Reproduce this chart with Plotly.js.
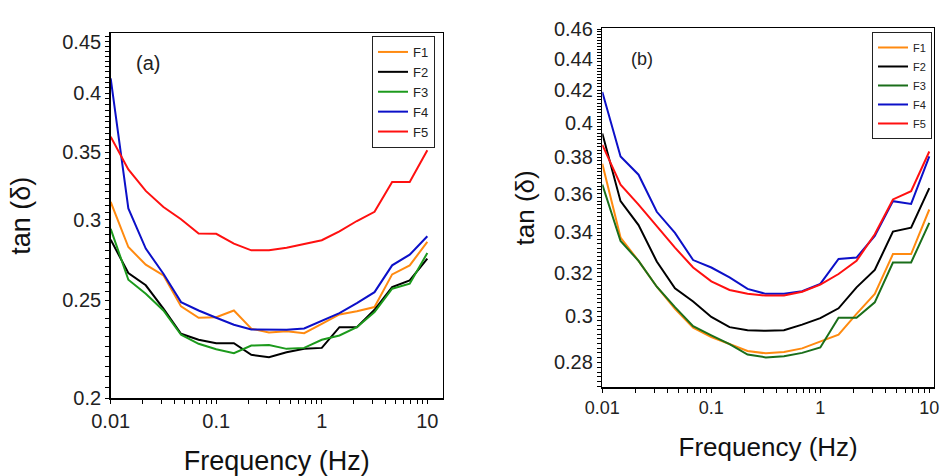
<!DOCTYPE html>
<html>
<head>
<meta charset="utf-8">
<script src="https://cdn.plot.ly/plotly-3.0.1.min.js"></script>
<style>html,body{margin:0;padding:0;background:#fff;}#chart{width:942px;height:476px;}</style>
</head>
<body>
<div id="chart"></div>
<script>
// Frequencies (Hz)
const freq = [0.01, 0.0147, 0.0215, 0.0316, 0.0464, 0.0681, 0.1, 0.147, 0.215, 0.316, 0.464, 0.681, 1, 1.47, 2.15, 3.16, 4.64, 6.81, 10];
const seriesNames = ['F1', 'F2', 'F3', 'F4', 'F5'];

// Panel (a) tan(delta)
const a_F1 = [0.3126, 0.2821, 0.2710, 0.2645, 0.2465, 0.2402, 0.2405, 0.2442, 0.2343, 0.2323, 0.2330, 0.2319, 0.2369, 0.2420, 0.2438, 0.2461, 0.2651, 0.2706, 0.2854];
const a_F2 = [0.2869, 0.2659, 0.2586, 0.2452, 0.2316, 0.2285, 0.2267, 0.2267, 0.2208, 0.2196, 0.2221, 0.2238, 0.2243, 0.2351, 0.2351, 0.2446, 0.2576, 0.2615, 0.2748];
const a_F3 = [0.2940, 0.2619, 0.2537, 0.2442, 0.2311, 0.2264, 0.2236, 0.2216, 0.2255, 0.2258, 0.2238, 0.2243, 0.2285, 0.2307, 0.2351, 0.2433, 0.2566, 0.2595, 0.2783];
const a_F4 = [0.4140, 0.3080, 0.2811, 0.2655, 0.2489, 0.2442, 0.2402, 0.2364, 0.2339, 0.2337, 0.2337, 0.2344, 0.2387, 0.2427, 0.2483, 0.2546, 0.2706, 0.2773, 0.2891];
const a_F5 = [0.3625, 0.3365, 0.3205, 0.3090, 0.3005, 0.2909, 0.2907, 0.2843, 0.2800, 0.2800, 0.2817, 0.2839, 0.2865, 0.2924, 0.2993, 0.3056, 0.3271, 0.3271, 0.3516];

// Panel (b) tan(delta)
const b_F1 = [0.3764, 0.3372, 0.3257, 0.3134, 0.3033, 0.2949, 0.2908, 0.2876, 0.2848, 0.2838, 0.2844, 0.2859, 0.2887, 0.2918, 0.3010, 0.3101, 0.3290, 0.3290, 0.3516];
const b_F2 = [0.3938, 0.3560, 0.3435, 0.3254, 0.3127, 0.3066, 0.2996, 0.2951, 0.2937, 0.2935, 0.2937, 0.2962, 0.2991, 0.3035, 0.3131, 0.3213, 0.3402, 0.3422, 0.3630];
const b_F3 = [0.3649, 0.3355, 0.3257, 0.3134, 0.3040, 0.2955, 0.2915, 0.2877, 0.2833, 0.2821, 0.2826, 0.2840, 0.2863, 0.2993, 0.2993, 0.3062, 0.3249, 0.3249, 0.3447];
const b_F4 = [0.4189, 0.3805, 0.3703, 0.3504, 0.3396, 0.3261, 0.3225, 0.3178, 0.3124, 0.3101, 0.3101, 0.3113, 0.3147, 0.3266, 0.3273, 0.3380, 0.3560, 0.3545, 0.3805];
const b_F5 = [0.3871, 0.3649, 0.3542, 0.3430, 0.3322, 0.3225, 0.3159, 0.3119, 0.3101, 0.3093, 0.3093, 0.3111, 0.3144, 0.3194, 0.3257, 0.3389, 0.3569, 0.3613, 0.3833];

// Tick labels
const xTickVals = [0.01, 0.1, 1, 10];
const xTickText = ['0.01', '0.1', '1', '10'];
const aYTickVals = [0.2, 0.25, 0.3, 0.35, 0.4, 0.45];
const aYTickText = ['0.2', '0.25', '0.3', '0.35', '0.4', '0.45'];
const bYTickVals = [0.28, 0.3, 0.32, 0.34, 0.36, 0.38, 0.4, 0.42, 0.44, 0.46];
const bYTickText = ['0.28', '0.3', '0.32', '0.34', '0.36', '0.38', '0.4', '0.42', '0.44', '0.46'];

const colorsA = ['#ff8a10', '#000000', '#1c9a1c', '#0c10c8', '#ff1010'];
const colorsB = ['#ff8a10', '#000000', '#1a6e1a', '#0c10c8', '#ff1010'];

// unlabelled minor tick positions (axis styling only)
const xMinor = [];
[0.01, 0.1, 1, 10].forEach(d => { for (let m = 2; m <= 9; m++) xMinor.push(+(d * m).toPrecision(3)); });
const aYMinor = [];
for (let i = 0; i <= 52; i++) { const v = +(0.2 + i * 0.005).toFixed(3); if (aYTickVals.indexOf(v) < 0) aYMinor.push(v); }
const bYMinor = [];
for (let i = 0; i <= 100; i++) { const v = +(0.27 + i * 0.002).toFixed(3); if (v < 0.461 && bYTickVals.indexOf(v) < 0) bYMinor.push(v); }

function withMinor(vals, text, minor) {
  return {tickvals: vals.concat(minor), ticktext: text.concat(minor.map(() => ''))};
}

const FONT = 'Liberation Sans, Arial, sans-serif';
const seriesA = [a_F1, a_F2, a_F3, a_F4, a_F5];
const seriesB = [b_F1, b_F2, b_F3, b_F4, b_F5];

const traces = [];
seriesA.forEach((ys, i) => traces.push({
  x: freq, y: ys, name: seriesNames[i], type: 'scatter', mode: 'lines',
  line: {color: colorsA[i], width: 2}, xaxis: 'x', yaxis: 'y', legend: 'legend'
}));
seriesB.forEach((ys, i) => traces.push({
  x: freq, y: ys, name: seriesNames[i], type: 'scatter', mode: 'lines',
  line: {color: colorsB[i], width: 2}, xaxis: 'x2', yaxis: 'y2', legend: 'legend2'
}));

function axisBase() {
  return {
    type: 'log', showgrid: false, zeroline: false,
    showline: true, linecolor: '#000', linewidth: 1.5, mirror: true,
    ticks: 'outside', ticklen: 4, tickwidth: 1, tickcolor: '#000',
    tickmode: 'array'
  };
}

const layout = {
  width: 942, height: 476,
  margin: {l: 0, r: 0, t: 0, b: 0},
  paper_bgcolor: '#fff', plot_bgcolor: '#fff',
  font: {family: FONT, color: '#222'},
  showlegend: true,
  xaxis: Object.assign(axisBase(), withMinor(xTickVals, xTickText, xMinor), {
    domain: [0.1175, 0.470], range: [-2, 1.146], anchor: 'y',
    tickfont: {family: FONT, size: 20, color: '#222'},
    title: {text: 'Frequency (Hz)', font: {family: FONT, size: 27, color: '#111'}, standoff: 22}
  }),
  yaxis: Object.assign(axisBase(), withMinor(aYTickVals, aYTickText, aYMinor), {
    domain: [0.1632, 0.930], range: [Math.log10(0.2), Math.log10(0.4586)], anchor: 'x',
    tickfont: {family: FONT, size: 20, color: '#222'},
    title: {text: 'tan (δ)', font: {family: FONT, size: 27, color: '#111'}, standoff: 24}
  }),
  xaxis2: Object.assign(axisBase(), withMinor(xTickVals, xTickText, xMinor), {
    domain: [0.6394, 0.9915], range: [-2, 1.043], anchor: 'y2',
    tickfont: {family: FONT, size: 18, color: '#222'},
    title: {text: 'Frequency (Hz)', font: {family: FONT, size: 26, color: '#111'}, standoff: 20}
  }),
  yaxis2: Object.assign(axisBase(), withMinor(bYTickVals, bYTickText, bYMinor), {
    domain: [0.1863, 0.9405], range: [Math.log10(0.2698), Math.log10(0.4605)], anchor: 'x2',
    tickfont: {family: FONT, size: 20, color: '#222'},
    title: {text: 'tan (δ)', font: {family: FONT, size: 26, color: '#111'}, standoff: 12}
  }),
  legend: {
    x: 0.4618, xanchor: 'right', y: 0.9244, yanchor: 'top',
    bgcolor: '#fff', bordercolor: '#222', borderwidth: 1,
    font: {family: FONT, size: 13, color: '#222'}, itemwidth: 30, tracegroupgap: 0
  },
  legend2: {
    x: 0.9894, xanchor: 'right', y: 0.9328, yanchor: 'top',
    bgcolor: '#fff', bordercolor: '#222', borderwidth: 1,
    font: {family: FONT, size: 11, color: '#222'}, itemwidth: 30, tracegroupgap: 0
  },
  annotations: [
    {text: '(a)', xref: 'paper', yref: 'paper', x: 0.1566, y: 0.8666, xanchor: 'center', yanchor: 'middle',
     showarrow: false, font: {family: FONT, size: 20, color: '#222'}},
    {text: '(b)', xref: 'paper', yref: 'paper', x: 0.6815, y: 0.877, xanchor: 'center', yanchor: 'middle',
     showarrow: false, font: {family: FONT, size: 18, color: '#222'}}
  ]
};

Plotly.newPlot('chart', traces, layout, {displayModeBar: false, staticPlot: true});
</script>
</body>
</html>
